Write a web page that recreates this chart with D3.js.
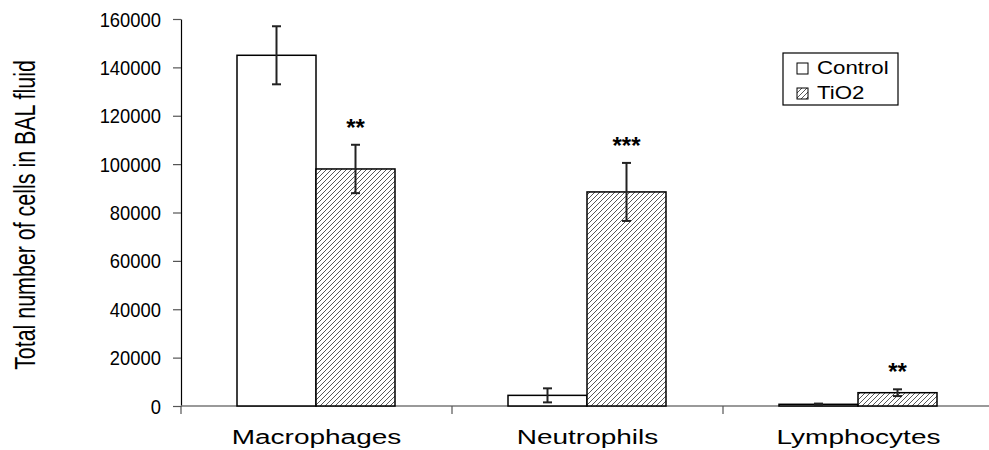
<!DOCTYPE html>
<html><head><meta charset="utf-8">
<script src="https://cdn.jsdelivr.net/npm/d3@7"></script>
<style>html,body{margin:0;padding:0;background:#fff;}svg{display:block;font-family:"Liberation Sans",Arial,sans-serif;}</style>
</head><body>
<svg id="chart" width="989" height="450"></svg>
<script>
const categories = ["Macrophages", "Neutrophils", "Lymphocytes"];
const series = ["Control", "TiO2"];
const controlMeans = [145000, 4400, 700];
const controlErr = [12000, 2900, 300];
const tio2Means = [98000, 88500, 5500];
const tio2Err = [10000, 12000, 1400];
const tio2Stars = ["**", "***", "**"];
const yTicks = [0, 20000, 40000, 60000, 80000, 100000, 120000, 140000, 160000];
const yLabel = "Total number of cells in BAL fluid";

const svg = d3.select("#chart");
const defs = svg.append("defs");
const pat = defs.append("pattern").attr("id", "hatch").attr("patternUnits", "userSpaceOnUse")
  .attr("width", 5).attr("height", 5);
pat.append("rect").attr("width", 5).attr("height", 5).attr("fill", "#fff");
pat.append("path").attr("d", "M0,5 L5,0 M-1,1 L1,-1 M4,6 L6,4")
  .attr("stroke", "#444").attr("stroke-width", 0.9);

const x0 = d3.scaleBand().domain(categories).range([181, 994]).paddingInner(0).paddingOuter(0);
const x1 = d3.scaleBand().domain(series).range([56, 214]);
const y = d3.scaleLinear().domain([0, 160000]).range([406, 19]);

const rows = categories.map((c, i) => ({
  cat: c,
  vals: [
    {s: "Control", m: controlMeans[i], e: controlErr[i], star: ""},
    {s: "TiO2", m: tio2Means[i], e: tio2Err[i], star: tio2Stars[i]}
  ]
}));

// y axis
const yAxis = svg.append("g").attr("transform", "translate(181,0)")
  .call(d3.axisLeft(y).tickValues(yTicks).tickFormat(d3.format("d")).tickSize(8).tickSizeOuter(0));
yAxis.select(".domain").attr("stroke", "#000").attr("stroke-width", 1.2);
yAxis.selectAll(".tick line").attr("stroke", "#555").attr("stroke-width", 1.2);
yAxis.selectAll(".tick text")
  .attr("x", null).attr("dy", null)
  .attr("font-size", 20).attr("fill", "#000").attr("text-anchor", "end")
  .attr("transform", "translate(-20,7) scale(0.92,1)");

// x axis line
svg.append("line").attr("x1", 181).attr("x2", 989).attr("y1", y(0)).attr("y2", y(0))
  .attr("stroke", "#777").attr("stroke-width", 1.5);
svg.selectAll(".xtick").data(categories).enter().append("line")
  .attr("x1", d => x0(d)).attr("x2", d => x0(d))
  .attr("y1", y(0)).attr("y2", y(0) + 8)
  .attr("stroke", "#555").attr("stroke-width", 1.2);

// bars
const g = svg.selectAll(".grp").data(rows).enter().append("g")
  .attr("transform", d => `translate(${x0(d.cat)},0)`);
g.selectAll("rect").data(d => d.vals).enter().append("rect")
  .attr("x", d => x1(d.s)).attr("width", x1.bandwidth())
  .attr("y", d => y(d.m)).attr("height", d => y(0) - y(d.m))
  .attr("fill", d => d.s === "TiO2" ? "url(#hatch)" : "#fff")
  .attr("stroke", "#000").attr("stroke-width", 1.5);

// error bars
const eb = g.selectAll(".eb").data(d => d.vals).enter().append("g")
  .attr("transform", d => `translate(${x1(d.s) + x1.bandwidth() / 2},0)`)
  .attr("stroke", "#222").attr("stroke-width", 2);
eb.append("line").attr("y1", d => y(d.m + d.e)).attr("y2", d => y(d.m - d.e));
eb.append("line").attr("x1", -4.5).attr("x2", 4.5).attr("y1", d => y(d.m + d.e)).attr("y2", d => y(d.m + d.e));
eb.append("line").attr("x1", -4.5).attr("x2", 4.5).attr("y1", d => y(d.m - d.e)).attr("y2", d => y(d.m - d.e));

// stars
g.selectAll(".star").data(d => d.vals.filter(v => v.star)).enter().append("text")
  .attr("x", d => x1(d.s) + x1.bandwidth() / 2)
  .attr("y", d => y(d.m + d.e) - 9)
  .attr("text-anchor", "middle").attr("font-size", 24).attr("font-weight", "bold").attr("fill", "#000")
  .text(d => d.star);

// category labels
svg.selectAll(".cat").data(categories).enter().append("text")
  .attr("transform", d => `translate(${x0(d) + x0.bandwidth() / 2},444) scale(1.4,1)`)
  .attr("text-anchor", "middle").attr("font-size", 20).attr("fill", "#000")
  .text(d => d);

// y label
svg.append("text")
  .attr("transform", "translate(35,215) rotate(-90) scale(0.714,1)")
  .attr("text-anchor", "middle").attr("font-size", 30).attr("fill", "#000")
  .text(yLabel);

// legend
const lg = svg.append("g");
lg.append("rect").attr("x", 783).attr("y", 53).attr("width", 115).attr("height", 52)
  .attr("fill", "#fff").attr("stroke", "#000").attr("stroke-width", 1.2);
const li = lg.selectAll(".li").data(series).enter().append("g")
  .attr("transform", (d, i) => `translate(797,${63 + i * 25})`);
li.append("rect").attr("width", 11).attr("height", 11)
  .attr("fill", d => d === "TiO2" ? "url(#hatch)" : "#fff").attr("stroke", "#000").attr("stroke-width", 1);
li.append("text").attr("transform", "translate(20,11) scale(1.27,1)")
  .attr("font-size", 17.5).attr("fill", "#000").text(d => d);
</script>
</body></html>
